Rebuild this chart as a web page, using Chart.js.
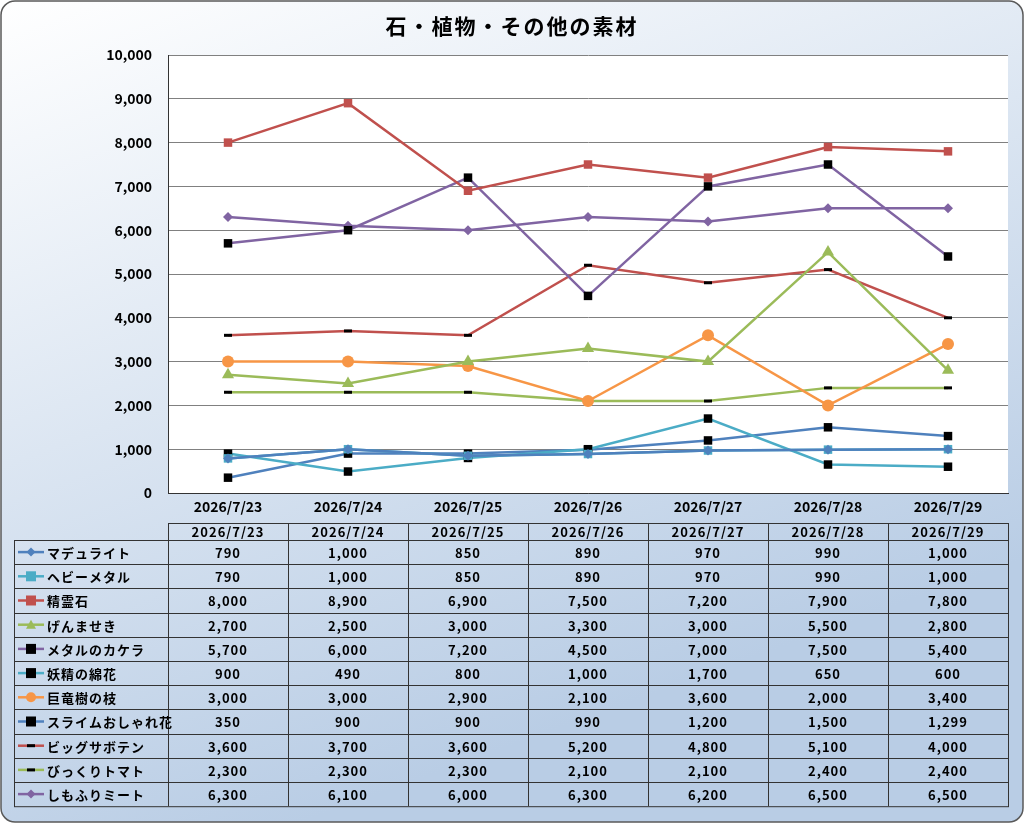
<!DOCTYPE html>
<html><head><meta charset="utf-8">
<script src="https://cdn.jsdelivr.net/npm/chart.js@4"></script>
<style>html,body{margin:0;padding:0;background:#fff}#w{width:1024px;height:823px}</style>
</head><body><div id="w"><canvas id="c" width="1024" height="823"></canvas></div>
<script>
const categories=['2026/7/23','2026/7/24','2026/7/25','2026/7/26','2026/7/27','2026/7/28','2026/7/29'];
const seriesNames=['マデュライト','ヘビーメタル','精霊石','げんませき','メタルのカケラ','妖精の綿花','巨竜樹の枝','スライムおしゃれ花','ビッグサボテン','びっくりトマト','しもふりミート'];
const madurite=[790,1000,850,890,970,990,1000];
const heavyMetal=[790,1000,850,890,970,990,1000];
const seireiseki=[8000,8900,6900,7500,7200,7900,7800];
const genmaseki=[2700,2500,3000,3300,3000,5500,2800];
const metalKakera=[5700,6000,7200,4500,7000,7500,5400];
const yoseiMenka=[900,490,800,1000,1700,650,600];
const kyoryuEda=[3000,3000,2900,2100,3600,2000,3400];
const slimeHana=[350,900,900,990,1200,1500,1299];
const bigSaboten=[3600,3700,3600,5200,4800,5100,4000];
const bikkuriTomato=[2300,2300,2300,2100,2100,2400,2400];
const shimofuri=[6300,6100,6000,6300,6200,6500,6500];
const seriesValues=[madurite,heavyMetal,seireiseki,genmaseki,metalKakera,yoseiMenka,kyoryuEda,slimeHana,bigSaboten,bikkuriTomato,shimofuri];
const yTicks=[0,1000,2000,3000,4000,5000,6000,7000,8000,9000,10000];

const styles=[
 {c:'#4F81BD',ps:'rectRot',pc:'#4F81BD',r:5},
 {c:'#4BACC6',ps:'rect',pc:'#4BACC6',r:6},
 {c:'#C0504D',ps:'rect',pc:'#C0504D',r:6},
 {c:'#9BBB59',ps:'triangle',pc:'#9BBB59',r:7},
 {c:'#8064A2',ps:'rect',pc:'#000',r:6},
 {c:'#4BACC6',ps:'rect',pc:'#000',r:6},
 {c:'#F79646',ps:'circle',pc:'#F79646',r:6},
 {c:'#4F81BD',ps:'rect',pc:'#000',r:6},
 {c:'#C0504D',ps:'line',pc:'#000',r:4},
 {c:'#9BBB59',ps:'line',pc:'#000',r:4},
 {c:'#8064A2',ps:'rectRot',pc:'#8064A2',r:5}
];
const FONT='"Noto Sans CJK JP","Noto Sans",sans-serif';
const datasets=seriesNames.map((n,i)=>({label:n,data:seriesValues[i],borderColor:styles[i].c,borderWidth:2.5,
 pointStyle:styles[i].ps,pointRadius:styles[i].r,pointBackgroundColor:styles[i].pc,
 pointBorderColor:styles[i].pc,pointBorderWidth:styles[i].ps==='line'?3:0,tension:0}));

const bg={id:'bg',beforeDraw(ch){const x=ch.ctx;x.save();
 const g=x.createLinearGradient(0,0,300,823);g.addColorStop(0,'#ffffff');g.addColorStop(0.5,'#dce6f2');g.addColorStop(1,'#b9cde5');
 x.fillStyle=g;x.beginPath();x.roundRect(1,1,1022,821,14);x.fill();
 x.strokeStyle='#595959';x.lineWidth=1.5;x.stroke();
 const a=ch.chartArea;x.fillStyle='#fff';x.fillRect(a.left,a.top,a.right-a.left,a.bottom-a.top);
 x.fillStyle='#000';x.font='bold 21px '+FONT;x.textAlign='center';x.textBaseline='middle';
 x.letterSpacing='2px';x.fillText('石・植物・その他の素材',512,26);x.restore();},
 afterDraw(ch){const x=ch.ctx,sx=ch.scales.x,a=ch.chartArea;x.save();
 const step=sx.getPixelForValue(1)-sx.getPixelForValue(0);
 const top=523,hh=17,rowH=24.2,legL=14,n=seriesNames.length;
 const bottom=top+hh+rowH*n;
 x.strokeStyle='#333';x.lineWidth=1;
 x.strokeRect(a.left+.5,top+.5,a.right-a.left,hh);
 x.strokeRect(legL+.5,top+hh+.5,a.right-legL,rowH*n);
 for(let i=0;i<=categories.length;i++){const px=Math.round(a.left+i*step)+.5;x.beginPath();x.moveTo(px,top);x.lineTo(px,bottom);x.stroke();}
 for(let r=1;r<n;r++){const py=Math.round(top+hh+r*rowH)+.5;x.beginPath();x.moveTo(legL,py);x.lineTo(a.right,py);x.stroke();}
 x.fillStyle='#000';x.font='bold 13px '+FONT;x.textAlign='center';x.textBaseline='middle';x.letterSpacing='1px';
 categories.forEach((c,i)=>x.fillText(c,a.left+(i+.5)*step,top+hh/2+1));
 seriesValues.forEach((vals,r)=>{const cy=top+hh+(r+.5)*rowH;
  vals.forEach((v,i)=>{x.textAlign='center';x.fillText(v.toLocaleString('en-US'),a.left+(i+.5)*step,cy+1);});
  const s=styles[r];x.strokeStyle=s.c;x.lineWidth=2.5;x.beginPath();x.moveTo(18,cy);x.lineTo(44,cy);x.stroke();
  x.fillStyle=s.pc;x.strokeStyle=s.pc;
  if(s.ps==='line'){x.lineWidth=3;x.strokeStyle='#000';x.beginPath();x.moveTo(27,cy);x.lineTo(35,cy);x.stroke();}
  else if(s.ps==='rect'){x.fillRect(26,cy-5,10,10);}
  else if(s.ps==='rectRot'){x.beginPath();x.moveTo(31,cy-4.5);x.lineTo(35.5,cy);x.lineTo(31,cy+4.5);x.lineTo(26.5,cy);x.fill();}
  else if(s.ps==='triangle'){x.beginPath();x.moveTo(31,cy-5);x.lineTo(36,cy+4);x.lineTo(26,cy+4);x.fill();}
  else {x.beginPath();x.arc(31,cy,5,0,Math.PI*2);x.fill();}
  x.fillStyle='#000';x.textAlign='left';x.fillText(seriesNames[r],47,cy+1);
 });
 x.restore();}};

new Chart(document.getElementById('c'),{type:'line',data:{labels:categories,datasets},
 options:{responsive:false,animation:false,devicePixelRatio:1,
  layout:{padding:{left:0,right:16,top:55,bottom:308}},
  plugins:{legend:{display:false},tooltip:{enabled:false},title:{display:false}},
  scales:{
   x:{offset:true,grid:{display:true,drawOnChartArea:false,drawTicks:false,color:'#333'},border:{color:'#333'},
      ticks:{color:'#000',font:{family:FONT,size:14,weight:'bold'},padding:5,maxRotation:0},
      afterFit(s){s.height=22;}},
   y:{min:0,max:10000,afterBuildTicks(s){s.ticks=yTicks.map(v=>({value:v}));},
      grid:{color:'#808080',drawTicks:false},border:{color:'#333'},
      ticks:{color:'#000',font:{family:FONT,size:14,weight:'bold'},padding:16,callback:v=>v.toLocaleString('en-US')},
      afterFit(s){s.width=168;}}
  }},plugins:[bg]});
</script></body></html>
